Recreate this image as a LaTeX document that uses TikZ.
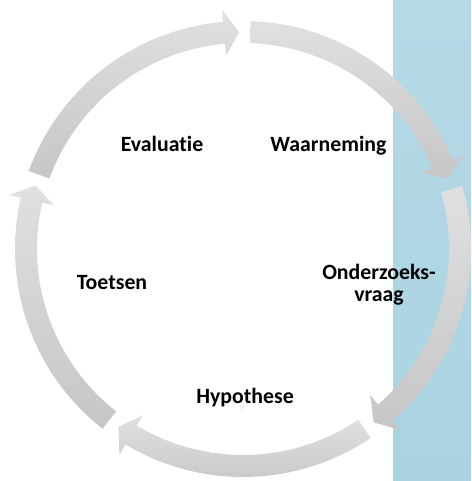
\documentclass[tikz,border=0pt]{standalone}
\usepackage{fontspec}
\setmainfont[Ligatures=NoCommon]{Carlito}

\definecolor{panellight}{HTML}{B5D9E7}
\definecolor{paneldark}{HTML}{AAD3E2}
\definecolor{arrowlight}{HTML}{E0E0E0}
\definecolor{arrowdark}{HTML}{C6C6C6}

\tikzset{
    stage/.style={font=\bfseries\fontsize{21.8}{22}\selectfont, anchor=base},
    cyclearrow/.style={top color=arrowlight, bottom color=arrowdark},
}

\begin{document}
\begin{tikzpicture}[x=1pt, y=1pt]
    \useasboundingbox (0, 0) rectangle (471, 481);
    \shade[top color=panellight, bottom color=paneldark] (393, 0) rectangle (471, 481);
    \begin{scope}[shift={(243, 232)}]
        \foreach \s in {88, 16, -56, -128, -200} {
            \pgfmathsetmacro{\b}{\s - 65}
            \pgfmathsetmacro{\t}{\s - 69}
            \shade[cyclearrow] (\s:228) arc[start angle=\s, end angle=\b, radius=228]
                -- (\b:240) -- (\t:217) -- (\b:194) -- (\b:206)
                arc[start angle=\b, end angle=\s, radius=206] -- cycle;
        }
    \end{scope}
    \node[stage] (evaluatie) at (162, 329) {Evaluatie};
    \node[stage] (waarneming) at (328.5, 329) {Waarneming};
    \node[stage, anchor=center, align=center] (vraag) at (379, 196.5) {Onderzoeks-\\vraag};
    \node[stage] (toetsen) at (112, 191) {Toetsen};
    \node[stage] (hypothese) at (245, 77) {Hypothese};
    \draw[gray!25] (242, 74) circle (1.8);
\end{tikzpicture}
\end{document}
